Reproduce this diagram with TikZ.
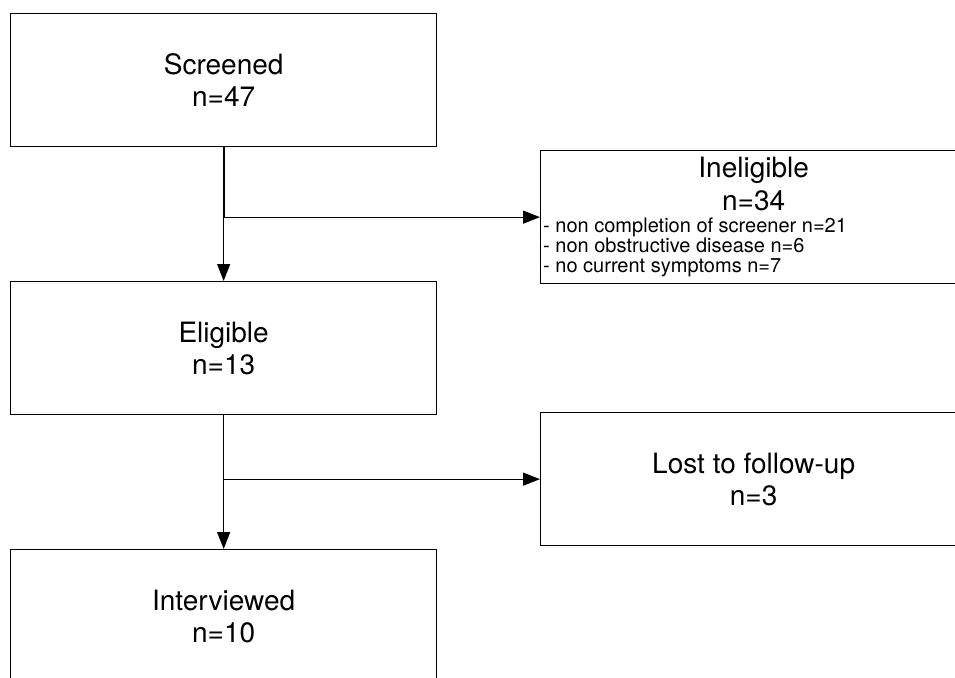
\documentclass[tikz,border=0pt]{standalone}
\usepackage{fontspec}
\setmainfont{TeX Gyre Heros}
\usetikzlibrary{arrows.meta}
\begin{document}
\begin{tikzpicture}[x=1pt,y=-1pt,
  box/.style={draw, line width=1.3pt, minimum width=426pt, minimum height=133pt,
    inner sep=0pt, align=center, anchor=north west,
    font=\fontsize{28}{32}\selectfont},
  conn/.style={line width=1.3pt, -{Triangle[length=17pt,width=13pt]}},
  bigtext/.style={inner sep=0pt, align=center, font=\fontsize{28}{33}\selectfont},
  smalltext/.style={inner sep=0pt, align=left, font=\fontsize{20}{20}\selectfont}]
\useasboundingbox (0,0) rectangle (955,677);
\fill[white] (0,0) rectangle (955,677);
\node[box] (screened) at (10,13) {Screened\\n=47};
\node[box] (ineligible) at (540,150) {};
\node[box] (eligible) at (10,281) {Eligible\\n=13};
\node[box] (lost) at (540,412) {Lost to follow-up\\n=3};
\node[box] (interviewed) at (10,549) {Interviewed\\n=10};
\node[bigtext, anchor=north] (inelTitle) at ([yshift=-6.5pt]ineligible.north) {Ineligible\\n=34};
\node[smalltext, anchor=north west] (inelList) at ([xshift=3pt,yshift=-67.5pt]ineligible.north west)
  {- non completion of screener n=21\\- non obstructive disease n=6\\- no current symptoms n=7};
\coordinate (b1) at (screened.south |- ineligible.west);
\coordinate (b2) at (eligible.south |- lost.west);
\draw[line width=2.2pt] (screened.south) -- (b1);
\draw[conn] (screened.south) -- (eligible.north);
\draw[conn] (b1) -- (ineligible.west);
\draw[conn] (eligible.south) -- (interviewed.north);
\draw[conn] (b2) -- (lost.west);
\end{tikzpicture}
\end{document}
